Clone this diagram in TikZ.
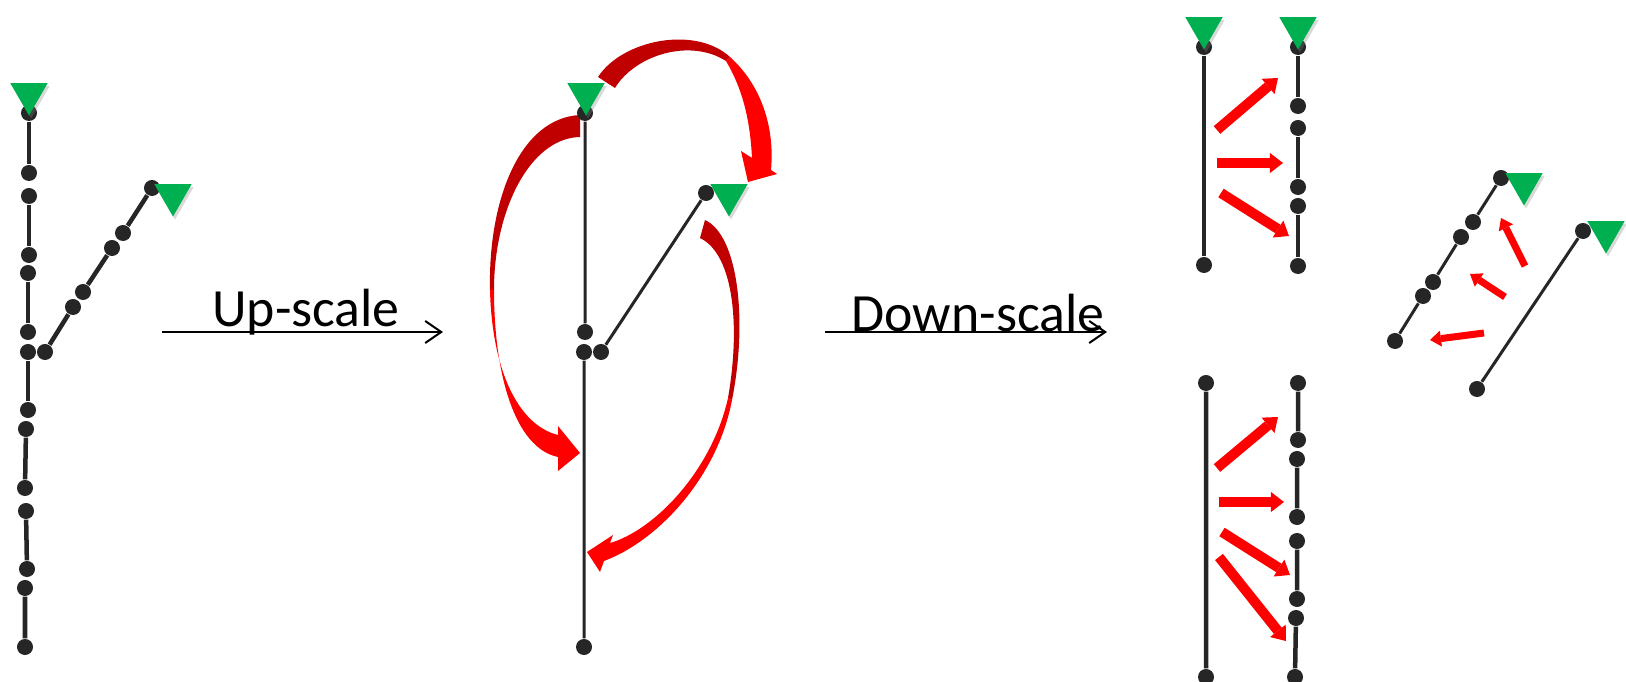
\documentclass[tikz,border=0pt]{standalone}
\usepackage{fontspec}
\setmainfont{Carlito}
\usetikzlibrary{arrows.meta,shapes.geometric,shadows}
\definecolor{treeDot}{HTML}{262626}
\definecolor{tipGreen}{HTML}{00B050}
\definecolor{moveDark}{HTML}{C00000}
\definecolor{moveRed}{HTML}{FF0000}
\tikzset{
    % tree parts
    dot/.style={circle, fill=treeDot, inner sep=0pt, minimum size=0.16cm},
    flag/.style={regular polygon, regular polygon sides=3, shape border rotate=180, fill=tipGreen, inner sep=0pt, minimum size=0.43cm,
        drop shadow={shadow xshift=0.02cm, shadow yshift=-0.03cm, opacity=0.3}},
    seg/.style={draw=treeDot, line width=0.045cm},
    thinseg/.style={draw=treeDot, line width=0.03cm},
    % scaling arrows
    scalearrow/.style={draw=black, line width=0.02cm, -{Straight Barb[length=0.16cm, width=0.22cm]}},
    scalelabel/.style={font=\fontsize{15.3pt}{18pt}\selectfont, inner sep=0pt, anchor=base},
    % moves
    move/.style={draw=moveRed, line width=0.1cm, -{Triangle[length=0.13cm, width=0.2cm, line width=0pt]}},
    smallmove/.style={draw=moveRed, line width=0.07cm, -{Triangle[length=0.11cm, width=0.16cm, line width=0pt]}}
}
\begin{document}
\begin{tikzpicture}[x=0.01cm, y=-0.01cm]
    \useasboundingbox (0,0) rectangle (1626,682);

    % Curved moves
    \fill[moveDark] (598,77) .. controls (622,40) and (695,25) .. (730,57) -- (726,61) .. controls (690,38) and (635,55) .. (615,88) -- cycle;
    \fill[moveRed] (730,57) .. controls (760,84) and (775,125) .. (771,170) -- (777,174) -- (748,182) -- (741,151) -- (752,158) .. controls (750,118) and (742,88) .. (726,61) -- cycle;
    \fill[moveDark] (580,115) .. controls (520,118) and (488,200) .. (490,290) -- (494,290) .. controls (494,210) and (530,138) .. (580,137) -- cycle;
    \fill[moveRed] (490,290) .. controls (492,370) and (518,425) .. (558,435) -- (558,426) -- (580,453) -- (558,471) -- (558,457) .. controls (515,448) and (494,375) .. (494,290) -- cycle;
    \fill[moveDark] (705,220) .. controls (738,235) and (748,320) .. (732,400) -- (728,398) .. controls (740,330) and (735,255) .. (700,238) -- cycle;
    \fill[moveRed] (732,400) .. controls (718,475) and (660,540) .. (604,561) -- (600,572) -- (587,552) -- (613,535) -- (610,543) .. controls (655,530) and (712,470) .. (728,398) -- cycle;

    % Left tree
    \node[dot] (t0) at (29,113) {};  \node[dot] (t1) at (29,173) {};
    \node[dot] (t2) at (29,196) {};  \node[dot] (t3) at (29,255) {};
    \node[dot] (t4) at (28,273) {};  \node[dot] (t5) at (28,332) {};
    \node[dot] (t6) at (28,352) {};  \node[dot] (t7) at (28,410) {};
    \node[dot] (t8) at (26,429) {};  \node[dot] (t9) at (25,488) {};
    \node[dot] (t10) at (26,511) {}; \node[dot] (t11) at (27,569) {};
    \node[dot] (t12) at (25,588) {}; \node[dot] (t13) at (25,647) {};
    \node[dot] (b0) at (45,352) {};  \node[dot] (b1) at (73,307) {};
    \node[dot] (b2) at (83,292) {};  \node[dot] (b3) at (112,248) {};
    \node[dot] (b4) at (123,233) {}; \node[dot] (b5) at (152,188) {};
    \draw[seg] (t0) -- (t1) (t2) -- (t3) (t4) -- (t5) (t6) -- (t7);
    \draw[seg] (t8) -- (t9) (t10) -- (t11) (t12) -- (t13);
    \draw[seg] (b0) -- (b1) (b2) -- (b3) (b4) -- (b5);
    \node[flag] (tf0) at (29,94) {};
    \node[flag] (tf1) at (173,195) {};

    % Up-scale
    \coordinate (up0) at (162,332);
    \coordinate (up1) at (443,332);
    \draw[scalearrow] (up0) -- (up1);
    \node[scalelabel] (uptext) at (306,327) {Up-scale};

    % Middle tree
    \node[dot] (m0) at (585,113) {};  \node[dot] (m1) at (585,332) {};
    \node[dot] (m2) at (584,352) {};  \node[dot] (m3) at (584,647) {};
    \node[dot] (mb0) at (601,352) {}; \node[dot] (mb1) at (706,193) {};
    \draw[thinseg] (m0) -- (m1) (m2) -- (m3) (mb0) -- (mb1);
    \node[flag] (mf0) at (586,94) {};
    \node[flag] (mf1) at (729,195) {};

    % Down-scale
    \coordinate (dn0) at (825,332);
    \coordinate (dn1) at (1107,332);
    \draw[scalearrow] (dn0) -- (dn1);
    \node[scalelabel] (dntext) at (978,332) {Down-scale};

    % Right, top pair
    \node[dot] (p0) at (1204,47) {};  \node[dot] (p1) at (1204,265) {};
    \node[dot] (q0) at (1298,47) {};  \node[dot] (q1) at (1298,106) {};
    \node[dot] (q2) at (1298,128) {}; \node[dot] (q3) at (1298,187) {};
    \node[dot] (q4) at (1298,206) {}; \node[dot] (q5) at (1298,266) {};
    \draw[seg] (p0) -- (p1) (q0) -- (q1) (q2) -- (q3) (q4) -- (q5);
    \node[flag] (pf0) at (1204,28) {};
    \node[flag] (qf0) at (1298,28) {};
    \draw[move] (1217,130) -- (1278,78);
    \draw[move] (1217,163) -- (1283,163);
    \draw[move] (1221,193) -- (1289,236);

    % Right, bottom pair
    \node[dot] (r0) at (1206,383) {}; \node[dot] (r1) at (1206,677) {};
    \node[dot] (s0) at (1298,383) {}; \node[dot] (s1) at (1298,440) {};
    \node[dot] (s2) at (1297,459) {}; \node[dot] (s3) at (1297,517) {};
    \node[dot] (s4) at (1297,541) {}; \node[dot] (s5) at (1297,599) {};
    \node[dot] (s6) at (1296,618) {}; \node[dot] (s7) at (1295,677) {};
    \draw[seg] (r0) -- (r1) (s0) -- (s1) (s2) -- (s3) (s4) -- (s5) (s6) -- (s7);
    \draw[move] (1217,468) -- (1278,417);
    \draw[move] (1219,502) -- (1284,502);
    \draw[move] (1222,532) -- (1290,575);
    \draw[move] (1219,557) -- (1286,641);

    % Far right pair
    \node[dot] (u0) at (1395,341) {}; \node[dot] (u1) at (1423,296) {};
    \node[dot] (u2) at (1433,282) {}; \node[dot] (u3) at (1461,237) {};
    \node[dot] (u4) at (1473,222) {}; \node[dot] (u5) at (1501,178) {};
    \node[dot] (v0) at (1477,389) {}; \node[dot] (v1) at (1583,231) {};
    \draw[thinseg] (u0) -- (u1) (u2) -- (u3) (u4) -- (u5) (v0) -- (v1);
    \node[flag] (uf0) at (1524,184) {};
    \node[flag] (vf0) at (1606,232) {};
    \draw[smallmove] (1525,266) -- (1501,218);
    \draw[smallmove] (1505,297) -- (1470,274);
    \draw[smallmove] (1484,333) -- (1430,340);

\end{tikzpicture}
\end{document}
